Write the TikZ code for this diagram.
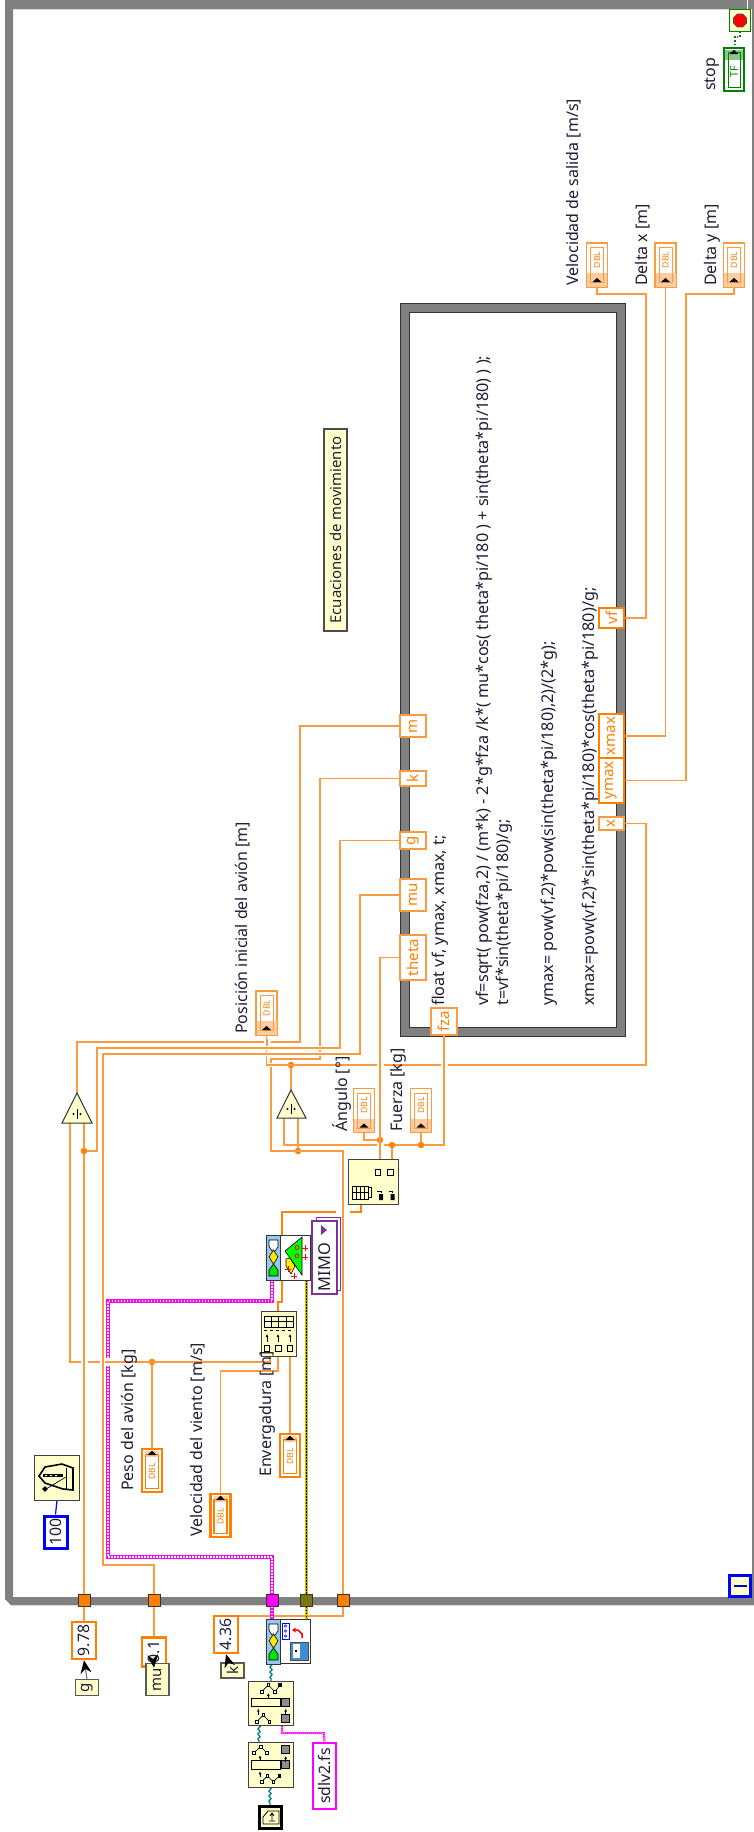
\documentclass[tikz,border=0pt]{standalone}
\usepackage{fontspec}
\setmainfont{Noto Sans}
\usetikzlibrary{arrows.meta,decorations.pathmorphing,shapes.geometric}
\definecolor{wireO}{RGB}{250,155,65}
\definecolor{termO}{RGB}{255,128,0}
\definecolor{pale}{RGB}{255,255,204}
\definecolor{frameG}{RGB}{128,128,128}
\definecolor{txt}{RGB}{32,28,52}
\definecolor{pinkW}{RGB}{255,0,255}
\definecolor{oliveW}{RGB}{204,190,0}
\definecolor{tealW}{RGB}{0,128,128}
\definecolor{lvGreen}{RGB}{0,128,0}
\definecolor{lvBlue}{RGB}{0,0,255}
\definecolor{panelB}{RGB}{150,200,240}
\definecolor{lvPurple}{RGB}{128,48,150}
\definecolor{tint}{RGB}{255,205,160}
\newcommand\lblfont{\fontsize{16}{17}\selectfont}
\newcommand\codefont{\fontsize{16.2}{17}\selectfont}
\newcommand\ecfont{\fontsize{14.9}{16}\selectfont}
\newcommand\smallfont{\fontsize{15.8}{17}\selectfont}
\newcommand\tunfont{\fontsize{15}{16}\selectfont}
\newcommand\dblfont{\fontsize{8.6}{9}\selectfont\bfseries}
\tikzset{
  wire/.style={draw=wireO,line width=1.15pt},
  thickwire/.style={draw=termO!85!wireO,line width=2.8pt},
  pinkwire/.style={draw=pinkW,line width=3.4pt,postaction={draw=white,line width=1.1pt,dash pattern=on 1.5pt off 1.5pt}},
  thinpink/.style={draw=pinkW,line width=2pt,postaction={draw=white,line width=.7pt,dash pattern=on 1pt off 1pt}},
  olivewire/.style={draw=oliveW,line width=3pt,postaction={draw=black,line width=1pt,dash pattern=on 1.5pt off 1.5pt}},
  tealwire/.style={draw=tealW,line width=1.3pt,decorate,decoration={snake,segment length=5pt,amplitude=1.1pt}},
  blk/.style={draw=black!75,fill=pale,line width=1pt,inner sep=0pt},
  jdot/.style={circle,fill=termO,inner sep=0pt,minimum size=6.5pt},
  lab/.style={anchor=west,rotate=90,inner sep=0pt,text=txt,font=\lblfont},
  code/.style={anchor=west,rotate=90,inner sep=0pt,text=txt,font=\codefont},
  tunnelbox/.style={draw=wireO,fill=white,line width=1.2pt,inner sep=0pt,text=termO,font=\tunfont},
  tunnelout/.style={draw=termO,fill=white,line width=2pt,inner sep=0pt,text=termO,font=\tunfont},
  constbox/.style={draw=termO,fill=white,line width=2.4pt,inner sep=0pt,text=txt,font=\smallfont},
  localbox/.style={draw=black!65,fill=pale,line width=1.3pt,inner sep=0pt,text=txt,font=\tunfont},
  framesq/.style={draw=black!80,line width=1pt,minimum size=12pt,inner sep=0pt},
  cursor/.style={-{Stealth[length=13pt,width=11pt,color=black]},draw=black!60,line width=1pt},
  icn/.style={draw=black,line width=.6pt},
}
\newcommand\RT[1]{\rotatebox{90}{#1}}
% indicator terminal: thin border, arrow at the bottom
\newcommand\dblind[3]{%
  \node[draw=wireO,fill=white,line width=1.1pt,minimum width=21pt,minimum height=44pt,inner sep=0pt] (#1) at (#2,#3) {};
  \fill[tint] ({#2-10},{#3+8}) rectangle ({#2+10},{#3+21.5});
  \draw[wireO,line width=1pt] ({#2-6.5},{#3-17.5}) rectangle ({#2+6.5},{#3+17.5});
  \fill[black] ({#2-4.5},{#3+17}) -- ({#2+4.5},{#3+17}) -- (#2,{#3+13}) -- cycle;
  \node[text=termO,font=\dblfont,inner sep=0pt] (#1txt) at (#2,{#3-5}) {\RT{DBL}};
}
% control terminal: thick border, arrow at the top
\newcommand\dblctl[3]{%
  \node[draw=termO,fill=white,line width=2.2pt,minimum width=20pt,minimum height=43pt,inner sep=0pt] (#1) at (#2,#3) {};
  \fill[tint] ({#2-7},{#3-20}) rectangle ({#2+7},{#3-14});
  \draw[termO,line width=1.2pt] ({#2-6.5},{#3-16}) rectangle ({#2+6.5},{#3+18});
  \fill[black] ({#2-4.5},{#3-15.5}) -- ({#2+4.5},{#3-15.5}) -- (#2,{#3-20}) -- cycle;
  \node[text=termO,font=\dblfont,inner sep=0pt] (#1txt) at (#2,{#3+1}) {\RT{DBL}};
}
% wire crossings: the under wire is broken, the over wire stays whole
\newcommand\gapH[2]{\fill[white] ({#1-3.5},{#2-1.2}) rectangle ({#1+3.5},{#2+1.2});\fill[wireO] ({#1-.6},{#2-3.5}) rectangle ({#1+.6},{#2+3.5});}
\newcommand\gapV[2]{\fill[white] ({#1-1.2},{#2-2.2}) rectangle ({#1+1.2},{#2+2.2});\fill[wireO] ({#1-2.5},{#2-.6}) rectangle ({#1+2.5},{#2+.6});}
\newcommand\sq[2]{\filldraw[fill=white,draw=black,line width=.6pt] ({#1-4},{#2-4}) rectangle ({#1+4},{#2+4});}
\newcommand\dsq[2]{\filldraw[fill=black!45,draw=black,line width=.6pt] ({#1-12},{#2-12}) rectangle ({#1+12},{#2+12});}
\newcommand\upa[2]{\draw[black,line width=.8pt,-{Latex[length=3pt,width=3pt]}] ({#1},{#2+12}) -- ({#1},{#2-6});}
\newcommand\redplus[2]{\draw[red,line width=.9pt] ({#1-2.6},#2) -- ({#1+2.6},#2) (#1,{#2-2.6}) -- (#1,{#2+2.6});}
% status panel of a polymorphic VI
\newcommand\panel[2]{%
  \filldraw[fill=panelB,draw=black!80,line width=1pt] (#1,#2) rectangle ({#1+14.5},{#2+45});
  \filldraw[fill=white,draw=black,line width=.6pt] ({#1+3},{#2+5}) -- ({#1+12},{#2+5}) -- ({#1+12},{#2+12}) -- ({#1+9},{#2+16}) -- ({#1+6},{#2+16}) -- ({#1+3},{#2+11}) -- cycle;
  \filldraw[fill=yellow!90!orange,draw=black,line width=.6pt] ({#1+7.5},{#2+15}) -- ({#1+12},{#2+22}) -- ({#1+7.5},{#2+29}) -- ({#1+3},{#2+22}) -- cycle;
  \filldraw[fill=green!90!black,draw=black,line width=.6pt] ({#1+7.5},{#2+29}) -- ({#1+12},{#2+35}) -- ({#1+12},{#2+41}) -- ({#1+3},{#2+41}) -- ({#1+3},{#2+35}) -- cycle;
}
\begin{document}
\begin{tikzpicture}[x=1pt,y=-1pt]
\useasboundingbox (0,0) rectangle (754,1832);
\fill[white] (0,0) rectangle (754,1832);

% ---------- while loop frame
\fill[frameG,even odd rule] (5,0) -- (754,0) -- (754,1605) -- (11,1605) -- (5,1599) -- cycle (13,9) rectangle (752,1597);
\fill[white] (746.5,0) rectangle (748,9);
\draw[black!15,line width=.8pt] (13,9) -- (746,9);
\draw[black!15,line width=1pt] (12,1605.6) -- (754,1605.6);

% ---------- formula node frame
\filldraw[fill=frameG,draw=black!80,line width=1pt,even odd rule] (400,303) rectangle (625,1036) (409,312) rectangle (616,1027);

% ---------- anchors on blocks
\coordinate (t1a) at (77,1093);
\coordinate (t1l) at (70,1123);
\coordinate (t1r) at (84,1123);
\coordinate (t2a) at (291,1090);
\coordinate (t2l) at (284,1118);
\coordinate (t2r) at (298,1118);
\coordinate (cluOut) at (361,1204);
\coordinate (cluIn1) at (380,1159);
\coordinate (cluIn2) at (392,1159);
\coordinate (viMt) at (282,1235);
\coordinate (viMb) at (282,1280);
\coordinate (viMp) at (272,1280);
\coordinate (viMo) at (306,1280);
\coordinate (unbT) at (278,1311);
\coordinate (unbA) at (270,1356);
\coordinate (unbB) at (278,1356);
\coordinate (unbC) at (290,1356);
\coordinate (viLp) at (272,1619);
\coordinate (viLo) at (306,1619);
\coordinate (viLt) at (271,1663);
\coordinate (aTop) at (271,1681);
\coordinate (aBot) at (259,1725);
\coordinate (aErr) at (282,1725);
\coordinate (bTop) at (259,1742);
\coordinate (bBot) at (270,1787);
\coordinate (pathTop) at (270,1805);
\coordinate (c436in) at (239,1616);
\coordinate (tmrOut) at (57,1500);
\coordinate (stopIn) at (740,32);
\coordinate (tfOut) at (735,47);

% ---------- junction dots
\node[jdot] (d291) at (291,1065) {};
\node[jdot] (d298) at (298,1151) {};
\node[jdot] (d380) at (380,1140) {};
\node[jdot] (d392) at (392,1145) {};
\node[jdot] (d421) at (421,1145) {};
\node[jdot] (d84) at (84,1151) {};
\node[jdot] (d152) at (152,1362) {};

% ---------- tunnels of the formula node
\node[tunnelbox,minimum width=26pt,minimum height=22pt] (tM) at (413,726) {\RT{m}};
\node[tunnelbox,minimum width=26pt,minimum height=15pt] (tK) at (413,778.5) {\RT{k}};
\node[tunnelbox,minimum width=26pt,minimum height=17pt] (tG) at (413,840.5) {\RT{g}};
\node[tunnelbox,minimum width=26pt,minimum height=32pt] (tMu) at (413,895) {\RT{mu}};
\node[tunnelbox,minimum width=26pt,minimum height=45pt] (tTh) at (413,957.5) {\RT{theta}};
\node[tunnelbox,minimum width=26pt,minimum height=27pt] (tFza) at (444,1021.5) {\RT{fza}};
\node[tunnelout,minimum width=25pt,minimum height=20pt] (tVf) at (611.5,618) {\RT{vf}};
\node[tunnelout,minimum width=25pt,minimum height=44pt] (tXm) at (611.5,736) {\RT{xmax}};
\node[tunnelout,minimum width=25pt,minimum height=45pt] (tYm) at (611.5,780.5) {\RT{ymax}};
\node[tunnelbox,minimum width=25pt,minimum height=13pt] (tX) at (611.5,823.5) {\RT{x}};

% ---------- terminals and constants
\dblind{dVel}{597}{265}
\dblind{dDx}{665.5}{265}
\dblind{dDy}{734}{265}
\dblind{dPos}{266.5}{1013}
\dblind{dAng}{364}{1110.5}
\dblind{dFue}{421}{1110.5}
\dblctl{dPeso}{152}{1470.5}
\dblctl{dVie}{220.5}{1515.5}
\dblctl{dEnv}{290}{1455.5}

\node[constbox,minimum width=24pt,minimum height=37pt] (c978) at (84,1640.5) {\RT{9.78}};
\node[constbox,minimum width=24pt,minimum height=29pt] (c01) at (154,1652) {\RT{0.1}};
\node[constbox,minimum width=24pt,minimum height=37pt] (c436) at (226,1634.5) {\RT{4.36}};
\node[draw=lvBlue,fill=white,line width=3pt,inner sep=0pt,minimum width=23pt,minimum height=32pt,text=txt,font=\smallfont] (c100) at (55.5,1532) {\RT{100}};
\node[draw=pinkW,fill=white,line width=2.8pt,inner sep=0pt,minimum width=23pt,minimum height=66pt,text=txt,font=\smallfont] (cFs) at (324.5,1776) {\RT{sdlv2.fs}};

% ---------- frame terminals
\node[framesq,fill=termO] (f1) at (84,1600) {};
\node[framesq,fill=termO] (f2) at (154,1600) {};
\node[framesq,fill=pinkW] (f3) at (272,1600) {};
\node[framesq,fill=olive!85!black] (f4) at (306,1600) {};
\node[framesq,fill=termO] (f5) at (343,1600) {};

% ---------- wires
\draw[wire] (dVel.south) |- (646,294) |- (tVf.east);
\draw[wire] (dDx.south) |- (tXm.east);
\draw[wire] (dDy.south) |- (686,294) |- (tYm.east);
\draw[wire] (tX.east) -| (646,1065) -| (dPos.south);
\draw[wire] (d291) -- (t2a);
\draw[wire] (tM.west) -| (300,1042) -| (t1a);
\draw[wire] (tK.west) -| (320,1059) -| (271,1151) -| (f5.north);
\draw[wire] (f5.south) |- (c436in);
\draw[wire] (tG.west) -| (340,1048) -| (97,1151) -- (d84);
\draw[wire] (tMu.west) -| (360,1054) -| (103,1565) -| (f2.north);
\draw[wire] (f2.south) -- (c01.north);
\draw[wire] (tTh.west) -| (cluIn1);
\draw[wire] (tFza.south) |- (d421);
\draw[wire] (d421) -- (d392) -| (t2l);
\draw[wire] (d392) -- (cluIn2);
\draw[wire] (t2r) -- (d298);
\draw[wire] (dAng.south) |- (d380);
\draw[wire] (dFue.south) -- (d421);
\draw[wire] (t1r) -- (d84) -- (f1.north);
\draw[wire] (f1.south) -- (c978.north);
\draw[wire] (t1l) |- (270,1362) -- (unbA);
\draw[wire] (d152) -- (dPeso.north);
\draw[wire] (unbB) |- (220.5,1371) -- (dVie.north);
\draw[wire] (unbC) -- (dEnv.north);
\draw[thickwire] (cluOut) |- (282,1212) -- (viMt);
\draw[thickwire] (viMb) |- (278,1302) -- (unbT);
\draw[pinkwire] (viMp) |- (108,1301) -- (108,1557) -| (f3.north);
\draw[pinkwire] (f3.south) -- (viLp);
\draw[olivewire] (viMo) -- (f4.north);
\draw[olivewire] (f4.south) -- (viLo);
\draw[tealwire] (viLt) -- (aTop);
\draw[tealwire] (aBot) -- (bTop);
\draw[tealwire] (bBot) -- (pathTop);
\draw[thinpink] (aErr) |- (324,1733) -- (cFs.north);
\draw[draw=lvBlue,line width=1.2pt] (tmrOut) -- (c100.north);
\draw[lvGreen,line width=1.3pt,dotted] (stopIn) |- (735,37) -- (tfOut);

% crossings
\gapH{267}{1042}\gapH{380}{1065}\gapH{444}{1065}\gapH{380}{1145}\gapH{84}{1362}\gapH{103}{1362}
\gapV{267}{1048}\gapV{267}{1054}\gapV{320}{1048}\gapV{320}{1054}\gapV{271}{1065}
\fill[white] (336,1210) rectangle (350,1214);
\fill[wireO] (342.4,1208) rectangle (343.6,1216);
\fill[white] (105,1358) rectangle (111,1365.5);
\fill[wireO] (105,1361.4) rectangle (111,1362.6);

% ---------- divide triangles
\filldraw[fill=pale,draw=black!80,line width=1pt] (t1a) -- (92,1123) -- (62,1123) -- cycle;
\filldraw[fill=pale,draw=black!80,line width=1pt] (t2a) -- (306,1118) -- (277,1118) -- cycle;
\fill[black] (73.5,1114) circle (1.2pt) (80.5,1114) circle (1.2pt);
\draw[black,line width=.8pt] (77,1109) -- (77,1119);
\fill[black] (287.5,1109) circle (1.2pt) (294.5,1109) circle (1.2pt);
\draw[black,line width=.8pt] (291,1104) -- (291,1114);

% ---------- cluster block
\node[blk,minimum width=50pt,minimum height=45pt] (bClu) at (373,1181.5) {};
\draw[icn,line width=.9pt] (375,1169) rectangle (380.5,1175) (387.5,1169) rectangle (393,1175);
\draw[icn,line width=.9pt] (352,1186) rectangle (368,1199);
\draw[icn,line width=.7pt] (356,1186) -- (356,1199) (360,1186) -- (360,1199) (364,1186) -- (364,1199) (352,1192.5) -- (368,1192.5) (368,1187) -- (371,1187) -- (371,1197) -- (368,1197);
\fill[black] (379,1194) rectangle (383,1200) (390.5,1194) rectangle (394.5,1200);
\draw[icn] (377,1191) -- (381,1191) -- (381,1193) (388.5,1191) -- (392.5,1191) -- (392.5,1193);

% ---------- unbundle block
\node[blk,minimum width=35pt,minimum height=45pt] (bUnb) at (278.5,1333.5) {};
\draw[icn,line width=.9pt] (264,1316) rectangle (293,1327);
\draw[icn,line width=.7pt] (271,1316) -- (271,1327) (278.5,1316) -- (278.5,1327) (286,1316) -- (286,1327) (264,1321.5) -- (293,1321.5);
\draw[icn,line width=.4pt,dashed] (264,1330) -- (293,1330);
\draw[icn,line width=.9pt] (264,1345) rectangle (269.5,1351) (275.5,1345) rectangle (281,1351) (287,1345) rectangle (292.5,1351);
\foreach \ux in {267,278,290}{\draw[black,line width=.6pt,-{Latex[length=3pt,width=3pt]}] (\ux,1342) -- (\ux,1334);}

% ---------- polymorphic VI (MIMO)
\node[draw=black!80,fill=white,line width=1pt,minimum width=44pt,minimum height=45pt,inner sep=0pt] (viM) at (288,1257.5) {};
\panel{266}{1235}
\filldraw[fill=green,draw=black,line width=.6pt] (285,1251) -- (302,1237) -- (302,1275) -- cycle;
\filldraw[fill=yellow,draw=black,line width=.6pt] (286,1259) -- (290,1258) -- (295,1266) -- (291,1274) -- (286,1266) -- cycle;
\foreach \px/\py in {305/1248,305/1257,288/1269,294/1276}{\redplus{\px}{\py}}
\draw[red,line width=.8pt] (297,1247.5) circle (2pt) (297,1256) circle (2pt);

% ---------- selector
\filldraw[fill=white,draw=lvPurple,line width=1pt] (316,1217) rectangle (340,1290);
\node[draw=lvPurple,fill=white,line width=1.2pt,minimum width=25pt,minimum height=73pt,inner sep=0pt] (sel) at (324.5,1257.5) {};
\node[text=txt,inner sep=0pt,font=\fontsize{16.4}{17}\selectfont] (selT) at (324.5,1267) {\RT{MIMO}};
\fill[lvPurple] (321,1225) -- (327,1230) -- (321,1235) -- cycle;

% ---------- lower VI (write)
\node[draw=black!80,fill=white,line width=1pt,minimum width=44pt,minimum height=44pt,inner sep=0pt] (viL) at (288,1641) {};
\panel{266}{1619}
\draw[lvBlue,line width=.8pt] (282,1623) rectangle (289,1639);
\foreach \py in {1626,1631,1636}{\draw[lvBlue,line width=.6pt] (285.5,\py) circle (1.2pt);}
\draw[red,line width=1.5pt,-{Stealth[length=4pt,width=5pt]}] (302,1638) -- (302,1634) -- (298,1630) -- (292,1630);
\filldraw[fill=cyan!60!blue!80,draw=black!70,line width=.7pt] (290,1642) rectangle (308,1660);
\fill[white] (293,1644) rectangle (300,1658);
\fill[black] (295,1650) rectangle (297,1652);
\fill[cyan!60!blue!80] (303,1646) rectangle (307,1657);

% ---------- timer
\node[blk,minimum width=45pt,minimum height=45pt] (bTim) at (56.5,1477.5) {};
\draw[black,line width=1.6pt] (39,1476) -- (45,1467) -- (62,1464) -- (73,1468) -- (73,1490) -- (63,1489) -- (45,1483) -- cycle;
\fill[black] (43,1474) rectangle (63,1477);
\fill[white] (45,1475) rectangle (47,1476) (50,1475) rectangle (52,1476) (55,1475) rectangle (57,1476);
\draw[black,line width=.7pt] (66,1468) -- (66,1489);
\draw[black,line width=.7pt] (46,1489) -- (66,1477);
\node[star,star points=4,fill=black,inner sep=0pt,minimum size=6pt] (tmrStar) at (45,1489) {};

% ---------- block A and B with tree icons
\node[blk,minimum width=45pt,minimum height=44pt] (bA) at (270.5,1703) {};
\node[blk,minimum width=45pt,minimum height=45pt] (bB) at (270.5,1764.5) {};
\begin{scope}[shift={(240,1670)},x=.3333pt,y=-.3333pt]
  \draw[icn] (65,65) -- (85,45) -- (105,65) -- (120,45);
  \sq{65}{65}\sq{85}{45}\sq{105}{65}
  \fill[black] (115,40) rectangle (125,50);
  \draw[icn,line width=.8pt,fill=pale] (35,85) rectangle (122,110);
  \dsq{137}{97}\dsq{137}{145}
  \upa{85}{75}\upa{55}{122}\upa{137}{122}
  \draw[icn] (50,155) -- (70,135) -- (88,155);
  \sq{50}{155}\sq{70}{135}\sq{88}{155}
  % block B
  \draw[icn] (42,248) -- (62,230) -- (80,248);
  \sq{42}{248}\sq{62}{230}\sq{80}{248}
  \dsq{137}{238}\dsq{137}{284}
  \draw[icn,line width=.8pt,fill=pale] (35,272) rectangle (122,297);
  \upa{60}{262}\upa{137}{264}\upa{60}{310}
  \draw[icn] (65,335) -- (82,318) -- (100,335) -- (118,318);
  \sq{65}{335}\sq{82}{318}\sq{100}{335}
  \fill[black] (113,313) rectangle (123,323);
\end{scope}

% ---------- path constant
\node[draw=black,fill=pale,line width=3pt,minimum width=22pt,minimum height=22pt,inner sep=0pt] (cPath) at (270.5,1817.5) {};
\draw[black,line width=.8pt] (263,1824) -- (263,1817) -- (268,1811) -- (279,1811) -- (279,1824) -- cycle;
\draw[black,line width=.8pt] (272,1813) -- (272,1820) (269,1821) -- (275,1821) (270,1816) -- (272,1813) -- (274,1816);

% ---------- local variables and pointers
\node[localbox,minimum width=23pt,minimum height=16pt] (lG) at (87,1687.5) {\RT{g}};
\node[localbox,minimum width=23pt,minimum height=32pt] (lMu) at (157.5,1679.5) {\RT{mu}};
\node[localbox,minimum width=23pt,minimum height=15pt] (lK) at (232.5,1670.5) {\RT{k}};
\draw[cursor] (lG.north) -- (c978.south);
\draw[cursor] ([xshift=-4pt]lMu.north) -- (c01.south);
\draw[cursor] ([xshift=-4pt]lK.north) -- (c436.south);

% ---------- loop terminals
\node[draw=lvBlue,fill=pale,line width=2.2pt,minimum width=21pt,minimum height=21pt,inner sep=0pt] (iTerm) at (740,1586) {};
\fill[lvBlue!80!black] (734,1584.8) rectangle (747,1587.2);
\node[draw=lvGreen,fill=pale,line width=1.8pt,minimum width=21pt,minimum height=22pt,inner sep=0pt] (stopT) at (740,20.5) {};
\node[regular polygon,regular polygon sides=8,fill=red,draw=black!70,line width=.8pt,minimum size=14pt,inner sep=0pt] (stopG) at (740,20.5) {};
\node[draw=lvGreen,fill=white,line width=2.6pt,minimum width=20pt,minimum height=43pt,inner sep=0pt] (tfT) at (734,69.5) {};
\fill[lvGreen!45] (725,50) rectangle (743,60);
\draw[lvGreen,line width=1pt] (728,52) rectangle (740,87);
\fill[black] (729.5,54) -- (738.5,54) -- (734,50) -- cycle;
\node[text=lvGreen,font=\fontsize{10.5}{11}\selectfont\bfseries,inner sep=0pt] (tfTxt) at (734,72) {\RT{TF}};

% ---------- labels
\node[lab] (lbVel) at (574,286) {Velocidad de salida [m/s]};
\node[lab] (lbDx) at (643,286) {Delta x [m]};
\node[lab] (lbDy) at (712,286) {Delta y [m]};
\node[lab] (lbStop) at (712,91) {stop};
\node[lab] (lbPos) at (243,1034) {Posición inicial del avión [m]};
\node[lab] (lbAng) at (342,1132) {Ángulo [°]};
\node[lab] (lbFue) at (398,1132) {Fuerza [kg]};
\node[lab] (lbPeso) at (129,1491) {Peso del avión [kg]};
\node[lab] (lbVie) at (198,1537) {Velocidad del viento [m/s]};
\node[lab] (lbEnv) at (267,1477) {Envergadura [m]};
\node[draw=black!70,fill=pale,line width=1.2pt,minimum width=23pt,minimum height=202pt,inner sep=0pt,text=txt,font=\ecfont] (lbEc) at (335.5,530) {\RT{Ecuaciones de movimiento}};

% ---------- formula text
\node[code] (f1t) at (440,1006) {float vf, ymax, xmax, t;};
\node[code] (f2t) at (484,1006) {vf=sqrt( pow(fza,2) / (m*k)  - 2*g*fza /k*( mu*cos( theta*pi/180 ) + sin(theta*pi/180) )  );};
\node[code] (f3t) at (504,1006) {t=vf*sin(theta*pi/180)/g;};
\node[code] (f4t) at (549,1006) {ymax=  pow(vf,2)*pow(sin(theta*pi/180),2)/(2*g);};
\node[code] (f5t) at (590,1006) {xmax=pow(vf,2)*sin(theta*pi/180)*cos(theta*pi/180)/g;};
\end{tikzpicture}
\end{document}
